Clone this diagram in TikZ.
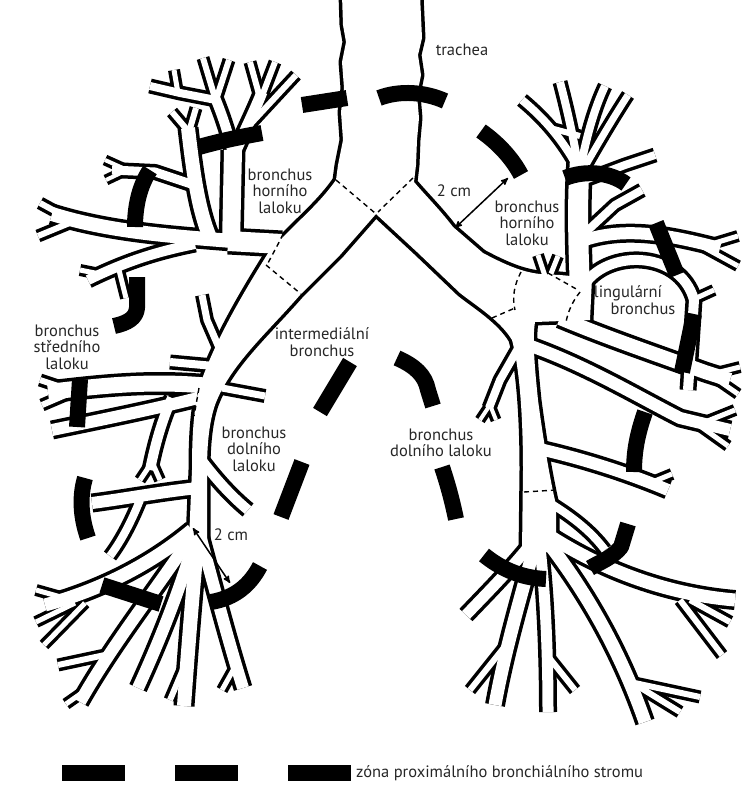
\documentclass[tikz,border=0pt]{standalone}
\usepackage{fontspec}
\setmainfont{PT Sans}
\usetikzlibrary{arrows}

\newcommand{\bronchtree}{%
  % trachea, main and lobar bronchi
  \path[lumen] (342,-5) -- (343,25) -- (346,42) -- (342,62) -- (344,88) -- (341,112) -- (343,140) -- (338,165) -- (336,180)
    .. controls (322,200) and (305,215) .. (288,232) -- (270,250)
    .. controls (245,290) and (215,340) .. (200,385)
    .. controls (193,410) and (192,440) .. (192,470) -- (189,540) -- (207,540) -- (207,470)
    .. controls (207,440) and (210,420) .. (215,405)
    .. controls (230,365) and (265,335) .. (300,295) -- (340,255) -- (376,214)
    -- (417,252) -- (460,293)
    .. controls (475,305) and (500,320) .. (512,340)
    .. controls (520,370) and (523,420) .. (523,470) -- (522,552) -- (556,552) -- (556,505)
    .. controls (548,470) and (542,430) .. (538,400)
    .. controls (535,370) and (532,340) .. (535,322) -- (590,320) -- (592,278) -- (560,275)
    -- (540,274) .. controls (520,272) and (500,262) .. (483,253) -- (453,227)
    .. controls (440,210) and (425,195) .. (414,182)
    -- (416,165) -- (417,140) -- (419,118) -- (417,95) -- (421,75) -- (418,55) -- (422,38) -- (420,-5) -- cycle;
  % right upper lobe
  \path[tube=20] (282,244) -- (228,241);
  \path[tube=14] (232,241) .. controls (170,236) and (110,232) .. (52,214);
  \path[tube=6] (75,222) -- (40,203);
  \path[tube=6] (72,222) -- (38,236);
  \path[tube=10] (195,244) .. controls (155,252) and (125,262) .. (88,280);
  \path[tube=5] (118,266) -- (126,298);
  \path[tube=5] (100,274) -- (80,270);
  \path[tube=18] (231,245) -- (233,150);
  \path[tube=10] (233,155) .. controls (228,130) and (220,110) .. (214,95);
  \path[tube=6] (215,98) -- (203,58);
  \path[tube=6] (216,100) -- (229,60);
  \path[tube=11] (234,155) .. controls (245,130) and (255,110) .. (262,92);
  \path[tube=6] (260,98) -- (250,62);
  \path[tube=6] (262,96) -- (275,62);
  \path[tube=6] (245,130) -- (296,75);
  \path[tube=14] (212,242) .. controls (198,212) and (193,170) .. (188,128);
  \path[tube=6] (189,132) -- (172,112);
  \path[tube=6] (189,132) -- (196,108);
  \path[tube=9] (194,185) -- (155,172) -- (112,170);
  \path[tube=4] (125,169) -- (105,160);
  \path[tube=4] (125,171) -- (106,180);
  \path[tube=8] (216,100) -- (180,93) -- (150,86);
  \path[tube=5] (178,93) -- (174,70);
  % right middle lobe
  \path[tube=16] (210,386) .. controls (150,380) and (100,386) .. (48,392);
  \path[tube=6] (70,390) -- (40,380);
  \path[tube=6] (70,393) -- (42,405);
  \path[tube=12] (198,398) .. controls (150,410) and (100,420) .. (52,430);
  \path[tube=10] (172,398) .. controls (162,420) and (155,445) .. (150,470);
  \path[tube=5] (152,462) -- (140,480);
  \path[tube=5] (152,462) -- (160,480);
  \path[tube=7] (220,350) -- (207,320) -- (202,295);
  \path[tube=8] (214,366) -- (170,362);
  \path[tube=7] (222,388) -- (265,396);
  % right lower lobe
  \path[tube=12] (198,488) .. controls (160,492) and (130,498) .. (92,503);
  \path[tube=8] (140,500) .. controls (132,520) and (122,540) .. (110,556);
  \path[tube=10] (200,458) .. controls (215,478) and (230,495) .. (248,510);
  \path[tube=13] (192,530) .. controls (150,565) and (100,590) .. (45,605);
  \path[tube=5] (75,601) -- (36,590);
  \path[tube=5] (75,603) -- (36,622);
  \path[tube=5] (85,603) -- (44,645);
  \path[tube=12] (194,532) .. controls (160,585) and (115,640) .. (80,702);
  \path[tube=6] (105,655) -- (58,665);
  \path[tube=5] (86,690) -- (66,704);
  \path[tube=12] (196,535) .. controls (180,590) and (160,640) .. (138,688);
  \path[tube=14] (198,535) .. controls (192,600) and (188,650) .. (184,706);
  \path[tube=6] (187,660) -- (170,700);
  \path[tube=12] (200,535) .. controls (215,590) and (228,640) .. (243,688);
  \path[tube=5] (236,665) -- (222,690);
  % left upper lobe
  \path[tube=20] (580,290) .. controls (578,240) and (577,200) .. (580,160);
  \path[tube=8] (578,168) .. controls (560,135) and (540,115) .. (522,100);
  \path[tube=8] (578,165) .. controls (572,130) and (566,105) .. (560,82);
  \path[tube=8] (581,165) .. controls (588,130) and (596,105) .. (605,86);
  \path[tube=7] (583,170) .. controls (600,140) and (615,115) .. (628,95);
  \path[tube=6] (550,128) -- (580,136);
  \path[tube=8] (585,180) -- (625,165) -- (655,155);
  \path[tube=12] (585,240) .. controls (630,225) and (680,238) .. (720,248);
  \path[tube=5] (705,246) -- (738,236);
  \path[tube=5] (705,248) -- (738,266);
  \path[tube=8] (586,232) -- (615,205) -- (642,190);
  \path[tube=5] (545,276) -- (538,255);
  \path[tube=5] (550,276) -- (558,256);
  % lingula
  \path[tube=10] (580,292) .. controls (600,248) and (680,248) .. (694,300) -- (688,390);
  \path[tube=5] (692,300) -- (714,290);
  \path[tube=14] (560,318) .. controls (605,337) and (655,354) .. (705,372) -- (730,380);
  \path[tube=5] (712,374) -- (740,367);
  \path[tube=5] (712,376) -- (738,394);
  % left lower lobe
  \path[tube=12] (528,345) .. controls (585,365) and (635,395) .. (680,418) -- (730,430);
  \path[tube=5] (700,424) -- (735,410);
  \path[tube=5] (700,426) -- (728,446);
  \path[tube=12] (535,448) .. controls (580,458) and (625,472) .. (668,490);
  \path[tube=5] (650,483) -- (672,474);
  \path[tube=8] (520,345) -- (500,380) -- (489,408);
  \path[tube=4] (490,405) -- (480,420);
  \path[tube=4] (490,405) -- (496,420);
  \path[tube=11] (530,545) .. controls (510,570) and (485,595) .. (466,615);
  \path[tube=13] (534,548) .. controls (520,600) and (505,650) .. (495,705);
  \path[tube=6] (510,640) -- (470,690);
  \path[tube=11] (540,548) .. controls (546,600) and (548,660) .. (548,712);
  \path[tube=6] (547,655) -- (575,690);
  \path[tube=13] (546,540) .. controls (585,590) and (620,650) .. (645,722);
  \path[tube=6] (628,680) -- (680,712);
  \path[tube=6] (630,682) -- (700,697);
  \path[tube=13] (548,535) .. controls (610,575) and (675,595) .. (735,600);
  \path[tube=6] (690,600) -- (730,622);
  \path[tube=6] (680,600) -- (722,655);
  \path[tube=8] (545,500) .. controls (570,515) and (590,530) .. (605,550);
}

\begin{document}
\begin{tikzpicture}[x=1pt,y=-1pt,line cap=butt,line join=round]
  \tikzstyle{note}=[draw=none,align=center,inner sep=0,text=black!85,font=\fontsize{16.5}{16.5}\selectfont]
  \tikzstyle{boundary}=[draw=black,line width=1.4,dash pattern=on 5pt off 4pt]
  \tikzstyle{zone}=[draw=black,line width=16]
  \tikzstyle{measure}=[<->,>=stealth',line width=1.5]
  \tikzstyle{legendbar}=[fill=black,minimum width=63,minimum height=16,inner sep=0]
  \useasboundingbox (0,0) rectangle (753,800);

  \tikzset{lumen/.style={draw=black,line width=7},tube/.style={draw=black,line width=#1+7}}
  \bronchtree
  \tikzset{lumen/.style={fill=white},tube/.style={draw=white,line width=#1}}
  \bronchtree

  \draw[boundary] (336,180) -- (375,213);
  \draw[boundary] (413,178) -- (378,212);
  \draw[boundary] (283,234) .. controls (278,245) and (272,255) .. (267,265);
  \draw[boundary] (266,265) -- (301,294);
  \draw[boundary] (199,388) -- (194,416);
  \draw[boundary] (521,272) .. controls (514,285) and (512,298) .. (515,310);
  \draw[boundary] (492,318) -- (515,308);
  \draw[boundary] (548,273) -- (578,290);
  \draw[boundary] (580,292) .. controls (572,302) and (568,312) .. (566,322);
  \draw[boundary] (524,492) -- (556,490);

  \draw[zone] (302,105) -- (347,98);
  \draw[zone] (379,98) .. controls (400,90) and (425,92) .. (445,101);
  \draw[zone] (481,131) .. controls (498,143) and (512,158) .. (521,175);
  \draw[zone] (199,147) .. controls (220,141) and (240,137) .. (262,133);
  \draw[zone] (150,170) .. controls (140,185) and (135,205) .. (135,227);
  \draw[zone] (137,277) -- (137,308) .. controls (136,318) and (128,323) .. (114,326);
  \draw[zone] (80,379) -- (77,427);
  \draw[zone] (85,478) .. controls (80,495) and (80,515) .. (88,538);
  \draw[zone] (102,585) -- (161,604);
  \draw[zone] (260,566) .. controls (250,585) and (235,598) .. (211,602);
  \draw[zone] (350,362) -- (320,412);
  \draw[zone] (302,462) -- (281,517);
  \draw[zone] (397,358) .. controls (415,366) and (425,375) .. (428,390) -- (433,406);
  \draw[zone] (442,467) .. controls (448,485) and (452,500) .. (456,519);
  \draw[zone] (484,555) .. controls (500,568) and (520,578) .. (546,579);
  \draw[zone] (628,524) -- (621,547) .. controls (612,558) and (600,562) .. (590,568);
  \draw[zone] (645,412) .. controls (637,435) and (634,452) .. (634,472);
  \draw[zone] (694,314) -- (682,372);
  \draw[zone] (656,223) -- (677,275);
  \draw[zone] (565,178) .. controls (585,170) and (610,172) .. (626,184);

  \coordinate (upperA) at (455,228);
  \coordinate (upperB) at (508,178);
  \coordinate (lowerA) at (193,528);
  \coordinate (lowerB) at (230,583);
  \draw[measure] (upperA) -- (upperB);
  \draw[measure] (lowerA) -- (lowerB);

  \node[note] (trachea) at (462,50) {trachea};
  \node[note] (rul) at (280,191) {bronchus\\horního\\laloku};
  \node[note] (cmup) at (454,191) {2 cm};
  \node[note] (lul) at (527,223) {bronchus\\horního\\laloku};
  \node[note] (lingtop) at (628,293) {lingulární};
  \node[note] (lingbot) at (643,309) {bronchus};
  \node[note] (rml) at (67,347) {bronchus\\středního\\laloku};
  \node[note] (inter) at (322,342) {intermediální\\bronchus};
  \node[note] (rll) at (254,449) {bronchus\\dolního\\laloku};
  \node[note] (cmlow) at (231,535) {2 cm};
  \node[note] (lll) at (441,443) {bronchus\\dolního laloku};

  \node[legendbar] (bar1) at (93,773) {};
  \node[legendbar] (bar2) at (206,773) {};
  \node[legendbar] (bar3) at (319,773) {};
  \node[note,anchor=west] (zonetext) at (356,773) {zóna proximálního bronchiálního stromu};
\end{tikzpicture}
\end{document}
